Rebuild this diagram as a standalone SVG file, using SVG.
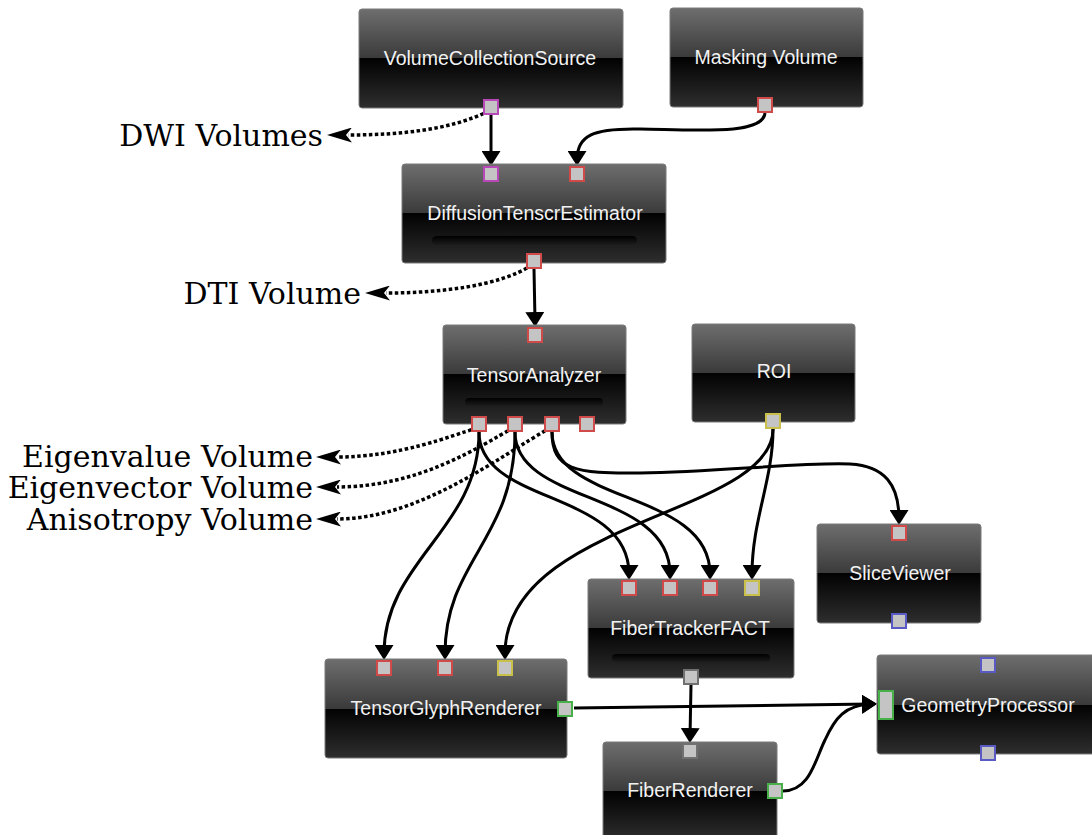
<svg xmlns="http://www.w3.org/2000/svg" width="1092" height="835" viewBox="0 0 1092 835">
  <defs>
    <linearGradient id="nodeGrad" x1="0" y1="0" x2="0" y2="1">
      <stop offset="0" stop-color="#6e6e6e"/>
      <stop offset="0.5" stop-color="#3a3a3a"/>
      <stop offset="0.5" stop-color="#020202"/>
      <stop offset="1" stop-color="#2e2e2e"/>
    </linearGradient>
    <linearGradient id="barGrad" x1="0" y1="0" x2="0" y2="1">
      <stop offset="0" stop-color="#000"/>
      <stop offset="1" stop-color="#1c1c1c"/>
    </linearGradient>
    <!-- solid connector head -->
    <marker id="head" markerUnits="userSpaceOnUse" viewBox="0 0 15 19" markerWidth="15" markerHeight="19" refX="9" refY="9.5" orient="auto">
      <path d="M0,0 L15,9.5 L0,19 z" fill="#000"/>
    </marker>
    <!-- dotted export head -->
    <marker id="stealth" markerUnits="userSpaceOnUse" viewBox="0 0 25 15" markerWidth="25" markerHeight="15" refX="4" refY="7.5" orient="auto">
      <path d="M0,0 L25,7.5 L0,15 L6,7.5 z" fill="#000"/>
    </marker>
    <style>
      .box { fill: url(#nodeGrad); stroke: #7a7a7a; stroke-width: 1; }
      .bar { fill: url(#barGrad); }
      .title { font-family: "Liberation Sans", Arial, sans-serif; font-size: 19.5px; fill: #f2f2f2; text-anchor: middle; }
      .label { font-family: "DejaVu Serif", "Liberation Serif", serif; font-size: 30px; fill: #000; text-anchor: end; }
      .port { fill: #c4c4c4; stroke-width: 2; }
      .red { stroke: #d04a4a; }
      .mag { stroke: #b848b8; }
      .yel { stroke: #c8c048; }
      .grn { stroke: #48b048; }
      .blu { stroke: #5a5ac4; }
      .gry { stroke: #707070; }
      .wire { fill: none; stroke: #000; stroke-width: 3; marker-end: url(#head); }
      .dots { fill: none; stroke: #000; stroke-width: 3.5; stroke-dasharray: 3.5 2.5; marker-end: url(#stealth); }
    </style>
  </defs>

  <rect width="1092" height="835" fill="#fff"/>

  <!-- connectors -->
  <g id="connectors">
    <path class="wire" d="M491,115 L491,160"/>
    <path class="wire" d="M765,113 C763,135 700,130 640,129 C592,128 577,136 577,160"/>
    <path class="wire" d="M534,269 L535,321"/>
    <path class="wire" d="M479,432 C479,530 384,560 384,654"/>
    <path class="wire" d="M515,432 C515,540 445,560 445,654"/>
    <path class="wire" d="M479,432 C479,505 629,490 629,574"/>
    <path class="wire" d="M515,432 C515,505 670,490 670,574"/>
    <path class="wire" d="M552,432 C552,505 710,490 710,574"/>
    <path class="wire" d="M552,432 C552,470 575,474 640,473 C720,472 800,462 850,464 C885,466 899,485 899,519"/>
    <path class="wire" d="M773,429 C773,480 752,520 752,574"/>
    <path class="wire" d="M773,429 C773,515 505,520 505,654"/>
    <path class="wire" d="M691,685 L690,737"/>
    <path class="wire" d="M574,708 C700,707 800,705 871,704"/>
    <path class="wire" d="M783,791 C810,791 815,760 825,740 C835,718 845,705 871,704"/>

    <path class="dots" d="M489,111 C450,130 400,135 348,135"/>
    <path class="dots" d="M532,265 C500,286 440,293 386,293"/>
    <path class="dots" d="M477,428 C450,436 400,457 337,457"/>
    <path class="dots" d="M513,428 C480,446 420,487 337,487"/>
    <path class="dots" d="M550,428 C500,456 420,519 337,519"/>
  </g>

  <!-- export labels -->
  <g id="labels">
    <text class="label" x="323" y="146">DWI Volumes</text>
    <text class="label" x="361" y="304">DTI Volume</text>
    <text class="label" x="313" y="467">Eigenvalue Volume</text>
    <text class="label" x="313" y="498">Eigenvector Volume</text>
    <text class="label" x="313" y="530">Anisotropy Volume</text>
  </g>

  <g id="VolumeCollectionSource">
    <rect class="box" x="359" y="9" width="264" height="99" rx="3"/>
    <text class="title" x="490" y="65">VolumeCollectionSource</text>
    <rect class="port mag" x="484" y="100" width="14" height="14"/>
  </g>

  <g id="MaskingVolume">
    <rect class="box" x="670" y="8" width="193" height="99" rx="3"/>
    <text class="title" x="766" y="64">Masking Volume</text>
    <rect class="port red" x="758" y="98" width="14" height="14"/>
  </g>

  <g id="DiffusionTensorEstimator">
    <rect class="box" x="402" y="164" width="264" height="99" rx="3"/>
    <rect class="port mag" x="484" y="167" width="14" height="14"/>
    <rect class="port red" x="570" y="167" width="14" height="14"/>
    <text class="title" x="535" y="220">DiffusionTenscrEstimator</text>
    <rect class="bar" x="432" y="236" width="205" height="9" rx="4.5"/>
    <rect class="port red" x="527" y="254" width="14" height="14"/>
  </g>

  <g id="TensorAnalyzer">
    <rect class="box" x="443" y="325" width="183" height="99" rx="3"/>
    <rect class="port red" x="528" y="328" width="14" height="14"/>
    <text class="title" x="534" y="382">TensorAnalyzer</text>
    <rect class="bar" x="465" y="398" width="138" height="8" rx="4"/>
    <rect class="port red" x="472" y="417" width="14" height="14"/>
    <rect class="port red" x="508" y="417" width="14" height="14"/>
    <rect class="port red" x="545" y="417" width="14" height="14"/>
    <rect class="port red" x="580" y="417" width="14" height="14"/>
  </g>

  <g id="ROI">
    <rect class="box" x="692" y="324" width="163" height="98" rx="3"/>
    <text class="title" x="774" y="378">ROI</text>
    <rect class="port yel" x="766" y="414" width="14" height="14"/>
  </g>

  <g id="SliceViewer">
    <rect class="box" x="817" y="524" width="164" height="99" rx="3"/>
    <rect class="port red" x="892" y="526" width="14" height="14"/>
    <text class="title" x="900" y="580">SliceViewer</text>
    <rect class="port blu" x="892" y="614" width="14" height="14"/>
  </g>

  <g id="FiberTrackerFACT">
    <rect class="box" x="588" y="579" width="206" height="99" rx="3"/>
    <rect class="port red" x="622" y="581" width="14" height="14"/>
    <rect class="port red" x="663" y="581" width="14" height="14"/>
    <rect class="port red" x="703" y="581" width="14" height="14"/>
    <rect class="port yel" x="745" y="581" width="14" height="14"/>
    <text class="title" x="690" y="635">FiberTrackerFACT</text>
    <rect class="bar" x="612" y="654" width="158" height="8" rx="4"/>
    <rect class="port gry" x="684" y="670" width="14" height="14"/>
  </g>

  <g id="TensorGlyphRenderer">
    <rect class="box" x="325" y="659" width="242" height="99" rx="3"/>
    <rect class="port red" x="377" y="661" width="14" height="14"/>
    <rect class="port red" x="438" y="661" width="14" height="14"/>
    <rect class="port yel" x="498" y="661" width="14" height="14"/>
    <text class="title" x="446" y="715">TensorGlyphRenderer</text>
    <rect class="port grn" x="558" y="702" width="14" height="14"/>
  </g>

  <g id="GeometryProcessor">
    <rect class="box" x="877" y="655" width="222" height="99" rx="3"/>
    <rect class="port blu" x="981" y="658" width="14" height="14"/>
    <rect class="port grn" x="879" y="691" width="14" height="28"/>
    <text class="title" x="988" y="712">GeometryProcessor</text>
    <rect class="port blu" x="981" y="746" width="14" height="14"/>
  </g>

  <g id="FiberRenderer">
    <rect class="box" x="603" y="742" width="174" height="99" rx="3"/>
    <rect class="port gry" x="683" y="744" width="14" height="14"/>
    <text class="title" x="690" y="797">FiberRenderer</text>
    <rect class="port grn" x="768" y="784" width="14" height="14"/>
  </g>
</svg>
